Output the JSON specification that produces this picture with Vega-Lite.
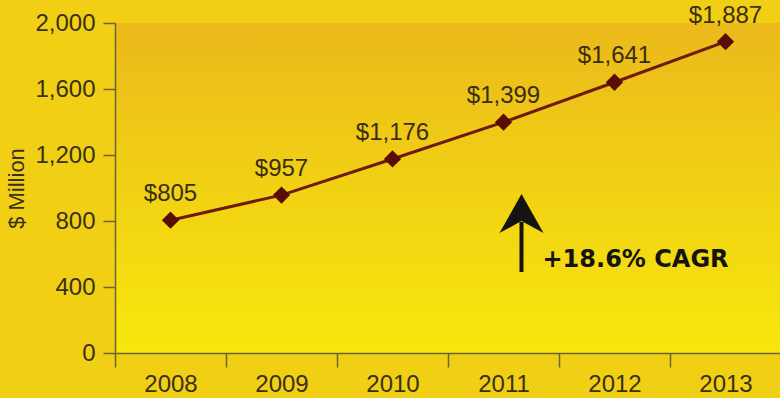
{
  "$schema": "https://vega.github.io/schema/vega-lite/v6.json",
  "width": 666,
  "height": 330,
  "autosize": {"type": "none"},
  "padding": {"left": 115, "top": 23, "right": 0, "bottom": 45},
  "background": "#F0CF14",
  "config": {
    "view": {
      "stroke": null,
      "fill": {
        "gradient": "linear",
        "x1": 0, "y1": 0, "x2": 0, "y2": 1,
        "stops": [
          {"offset": 0, "color": "#EBB91B"},
          {"offset": 0.5, "color": "#F1D114"},
          {"offset": 1, "color": "#F7E70C"}
        ]
      }
    },
    "font": "Liberation Sans"
  },
  "layer": [
    {
      "data": {"values": [
        {"year": "2008", "value": 805},
        {"year": "2009", "value": 957},
        {"year": "2010", "value": 1176},
        {"year": "2011", "value": 1399},
        {"year": "2012", "value": 1641},
        {"year": "2013", "value": 1887}
      ]},
      "layer": [
        {
          "mark": {"type": "line", "color": "#6E1A0C", "strokeWidth": 3},
          "encoding": {
            "x": {
              "field": "year", "type": "nominal", "bandPosition": 0.5,
              "scale": {"type": "band", "paddingInner": 0, "paddingOuter": 0},
              "axis": {
                "title": null, "labelAngle": 0, "tickBand": "extent",
                "labelFontSize": 24, "labelColor": "#3A3014", "labelPadding": 5,
                "tickSize": 14, "tickColor": "#6A6432", "tickWidth": 1.5,
                "domainColor": "#6A6432", "domainWidth": 1.5
              }
            },
            "y": {
              "field": "value", "type": "quantitative",
              "scale": {"domain": [0, 2000], "nice": false},
              "axis": {
                "values": [0, 400, 800, 1200, 1600, 2000], "format": ",.0f",
                "grid": false, "labelFontSize": 24, "labelColor": "#3A3014",
                "labelPadding": 8, "tickSize": 12, "tickColor": "#6A6432", "tickWidth": 1.5,
                "domainColor": "#6A6432", "domainWidth": 1.5,
                "title": "$ Million", "titleFontSize": 22, "titleFontWeight": "normal",
                "titleColor": "#3A3014", "titlePadding": 6
              }
            }
          }
        },
        {
          "mark": {"type": "point", "shape": "diamond", "size": 300, "filled": true, "color": "#5A0C06", "opacity": 1},
          "encoding": {
            "x": {"field": "year", "type": "nominal", "bandPosition": 0.5},
            "y": {"field": "value", "type": "quantitative"}
          }
        },
        {
          "mark": {"type": "text", "fontSize": 24, "color": "#3A2E12", "dy": -19, "baseline": "alphabetic", "align": "center"},
          "encoding": {
            "x": {"field": "year", "type": "nominal", "bandPosition": 0.5},
            "y": {"field": "value", "type": "quantitative"},
            "text": {"field": "value", "type": "quantitative", "format": "$,"}
          }
        }
      ]
    },
    {
      "data": {"values": [{"year": "2011", "low": 491, "high": 794, "head": 842, "label": 521, "text": "+18.6% CAGR"}]},
      "layer": [
        {
          "mark": {"type": "rule", "color": "#141414", "strokeWidth": 4, "xOffset": 18},
          "encoding": {
            "x": {"field": "year", "type": "nominal", "bandPosition": 0.5},
            "y": {"field": "low", "type": "quantitative"},
            "y2": {"field": "high"}
          }
        },
        {
          "mark": {"type": "point", "shape": "M0,-0.91L1,0.86L0,0.32L-1,0.86Z", "size": 1936, "filled": true, "color": "#141414", "opacity": 1, "xOffset": 18},
          "encoding": {
            "x": {"field": "year", "type": "nominal", "bandPosition": 0.5},
            "y": {"field": "head", "type": "quantitative"}
          }
        },
        {
          "mark": {"type": "text", "font": "DejaVu Sans", "fontWeight": "bold", "fontSize": 24, "color": "#141414", "align": "left", "baseline": "alphabetic", "dx": 39},
          "encoding": {
            "x": {"field": "year", "type": "nominal", "bandPosition": 0.5},
            "y": {"field": "label", "type": "quantitative"},
            "text": {"field": "text", "type": "nominal"}
          }
        }
      ]
    }
  ]
}
